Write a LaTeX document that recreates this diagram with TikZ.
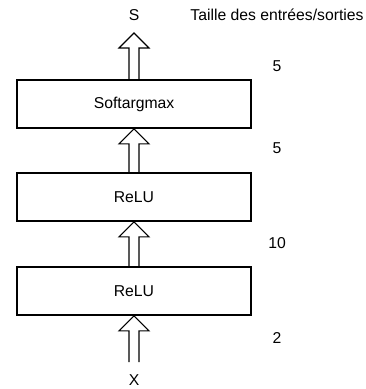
\documentclass[tikz,border=0pt]{standalone}
\usepackage{fontspec}
\setmainfont{Liberation Sans}
\usetikzlibrary{calc}

\tikzset{
  couche/.style={draw, line width=1.2pt, minimum width=175.5pt, minimum height=36pt, inner sep=0pt},
  fleche/.style={line width=0.8pt},
}
% fleche creuse : de #1 (bas, ouvert) jusqu'a la pointe #2
\newcommand\flechecreuse[2]{%
  \draw[fleche] ($(#1)+(-5,0)$) -- ($(#2)+(-5,15)$) -- ($(#2)+(-15,15)$) -- (#2)
    -- ($(#2)+(15,15)$) -- ($(#2)+(5,15)$) -- ($(#1)+(5,0)$);}

\begin{document}
\begin{tikzpicture}[x=0.75pt, y=-0.75pt, font=\fontsize{11.8}{13}\selectfont]
\useasboundingbox (0,0) rectangle (366,389);

\node (s) at (134,15) {S};
\node (titre) at (277,15) {Taille des entrées/sorties};
\node[couche] (soft) at (134,104) {Softargmax};
\node[couche] (relu2) at (134,197) {ReLU};
\node[couche] (relu1) at (134,291) {ReLU};
\node (x) at (134,380) {X};
\coordinate (sortie) at (134,33);
\coordinate (entree) at (134,362);

\node (t4) at (277,66) {5};
\node (t3) at (277,148) {5};
\node (t2) at (277,243) {10};
\node (t1) at (277,338) {2};

\flechecreuse{soft.north}{sortie}
\flechecreuse{relu2.north}{soft.south}
\flechecreuse{relu1.north}{relu2.south}
\flechecreuse{entree}{relu1.south}
\end{tikzpicture}
\end{document}
